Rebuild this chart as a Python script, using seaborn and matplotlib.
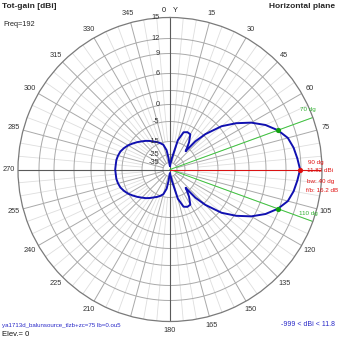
import numpy as np
import pandas as pd
import matplotlib
matplotlib.use("Agg")
import matplotlib.pyplot as plt
import matplotlib.transforms as mtransforms
import seaborn as sns

# ---------------- data ----------------
angles_deg = [0, 5, 10, 15, 20, 25, 30, 35, 38, 40.5, 42, 45, 50, 55, 60, 65, 70, 75, 80, 85,
              90, 95, 100, 105, 110, 115, 120, 125, 130, 135, 138, 139.5, 142, 145, 150, 155,
              160, 165, 170, 175, 180, 185, 187, 190, 195, 200, 205, 210, 215, 220, 225, 230,
              235, 240, 245, 250, 255, 260, 265, 270, 275, 280, 285, 290, 295, 300, 305, 310,
              315, 320, 325, 330, 335, 340, 345, 350, 353, 355, 360]
gain_dbi = [-40, -36, -28.5, -13.9, -9.2, -8.4, -8.7, -12.4, -15, -18, -10, -4.4, 0.5, 3.3, 5.6,
            7.4, 8.82, 10.2, 10.9, 11.36, 11.82, 11.36, 10.9, 10.2, 8.82, 7.4, 5.6, 3.3, 0.5,
            -4.4, -10, -18, -15, -12.4, -8.7, -8.4, -9.2, -13.9, -28.5, -36, -40, -38, -30,
            -21.5, -16.9, -15, -13.9, -12.9, -11.6, -10.3, -9.1, -7.7, -6.3, -4.9, -4.2, -3.6,
            -3.3, -3.1, -3.1, -3.0, -3.1, -3.1, -3.3, -3.6, -4.2, -4.9, -6.3, -7.7, -9.1, -10.3,
            -11.6, -12.9, -13.9, -15, -16.9, -21.5, -30, -38, -40]

ring_db = [15, 12, 9, 6, 3, 0, -5, -15, -25, -35]
ring_labels = ["15", "12", "9", "6", "", "0", "-5", "-15", "-25", "-35"]
angle_ticks = [15, 30, 45, 60, 75, 105, 120, 135, 150, 165, 180, 210, 225, 240, 255, 270,
               285, 300, 315, 330, 345]
max_gain = 11.82
bw_angles = [70, 110]
max_angle = 90

# radial scale of the plot (dB -> radius units)
SCALE_DB = [-45, -35, -25, -15, -5, 0, 3, 6, 9, 12, 15]
SCALE_R = [0, 7, 15, 28, 48, 65, 79, 96, 116, 131, 152]


def rad(db):
    return np.interp(db, SCALE_DB, SCALE_R)


R = 152
W = H = 339
fig = plt.figure(figsize=(W / 100, H / 100), dpi=100)
sns.set_style("white")
plt.rcParams['font.family'] = ['Liberation Sans', 'DejaVu Sans']

cx, cy = 170, 169.5
ax = fig.add_axes([(cx - R) / W, (H - cy - R) / H, 2 * R / W, 2 * R / H], projection='polar')
ax.set_theta_zero_location('N')
ax.set_theta_direction(-1)
ax.set_ylim(0, R)
ax.grid(False)
ax.set_xticks([])
ax.set_yticks([])
ax.spines['polar'].set_color('#7a7a7a')
ax.spines['polar'].set_linewidth(0.9)

th = np.linspace(0, 2 * np.pi, 721)
# rings
for v in ring_db[1:]:
    ax.plot(th, np.full_like(th, rad(v)), color='#a9a9a9', lw=0.7, zorder=1)
# spokes
for a in range(0, 360, 5):
    t = np.deg2rad(a)
    if a % 90 == 0:
        continue
    if a % 15 == 0:
        ax.plot([t, t], [rad(-35), R], color='#a9a9a9', lw=0.7, zorder=1)
    else:
        ax.plot([t, t], [rad(-15), R], color='#dedede', lw=0.6, zorder=0.9)
# main axes
for a in (0, 90, 180, 270):
    t = np.deg2rad(a)
    ax.plot([t, t], [0, R], color='#5a5a5a', lw=0.8, zorder=1.5)

# beamwidth and max lines
for a in bw_angles:
    t = np.deg2rad(a)
    ax.plot([t, t], [0, R], color='#3cc43c', lw=0.7, zorder=2)
ax.plot([np.deg2rad(max_angle)] * 2, [0, R], color='#e01010', lw=0.7, zorder=2)

# pattern
df = pd.DataFrame({"theta": np.deg2rad(angles_deg), "r": rad(np.array(gain_dbi))})
sns.lineplot(data=df, x="theta", y="r", sort=False, estimator=None, ax=ax,
             color='#1010b0', lw=1.4, zorder=3)
ax.set_xlabel('')
ax.set_ylabel('')

gi = dict(zip(angles_deg, gain_dbi))
for a in bw_angles:
    ax.scatter([np.deg2rad(a)], [rad(gi[a])], s=14, color='#10a010', zorder=4, linewidths=0)
ax.scatter([np.deg2rad(max_angle)], [rad(max_gain)], s=14, color='#e01010', zorder=4, linewidths=0)

# angle labels
fs = 5.3
for a in angle_ticks:
    ax.text(np.deg2rad(a), R + 9.5, str(a), ha='center', va='center', fontsize=fs,
            color='#333333', clip_on=False)

# ring labels
off = mtransforms.offset_copy(ax.transData, fig=fig, x=-7.5, y=0, units='points')
for v, lb in zip(ring_db, ring_labels):
    if lb:
        ax.text(0, rad(v), lb, transform=off, ha='right', va='center', fontsize=fs,
                color='#333333')


def px(x, y):
    return x / W, 1 - y / H


fig.text(*px(164, 10), "0", ha='center', va='center', fontsize=fs, color='#222222')
fig.text(*px(175, 10), "Y", ha='center', va='center', fontsize=fs, color='#222222')
fig.text(*px(2, 7), "Tot-gain [dBi]", ha='left', va='center', fontsize=6, fontweight='bold')
fig.text(*px(3, 25), "Freq=192", ha='left', va='center', fontsize=5.3)
fig.text(*px(335, 6), "Horizontal plane", ha='right', va='center', fontsize=6, fontweight='bold')
fig.text(*px(2, 325), "ya1713d_balunsource_tlzb+zc=75 lb=0.ou5", ha='left', va='center',
         fontsize=4.4, color='#2828c8')
fig.text(*px(2, 334), "Elev.= 0", ha='left', va='center', fontsize=5.5, color='#111111')
fig.text(*px(335, 325), "-999 < dBi < 11.8", ha='right', va='center', fontsize=5,
         color='#2828c8')

# annotations
fs_a = 4.5
fig.text(*px(300, 110), "70 dg", ha='left', va='center', fontsize=fs_a, color='#30b030')
fig.text(*px(299, 213), "110 dg", ha='left', va='center', fontsize=fs_a, color='#30b030')
fig.text(*px(308, 162), "90 dg", ha='left', va='center', fontsize=fs_a, color='#e01010')
fig.text(*px(307, 171), "11.82 dBi", ha='left', va='center', fontsize=fs_a, color='#e01010')
fig.text(*px(307, 181), "bw: 40 dg", ha='left', va='center', fontsize=fs_a, color='#e01010')
fig.text(*px(306, 190), "f/b: 16.2 dB", ha='left', va='center', fontsize=fs_a, color='#e01010')

fig.savefig("out.png", dpi=100)
